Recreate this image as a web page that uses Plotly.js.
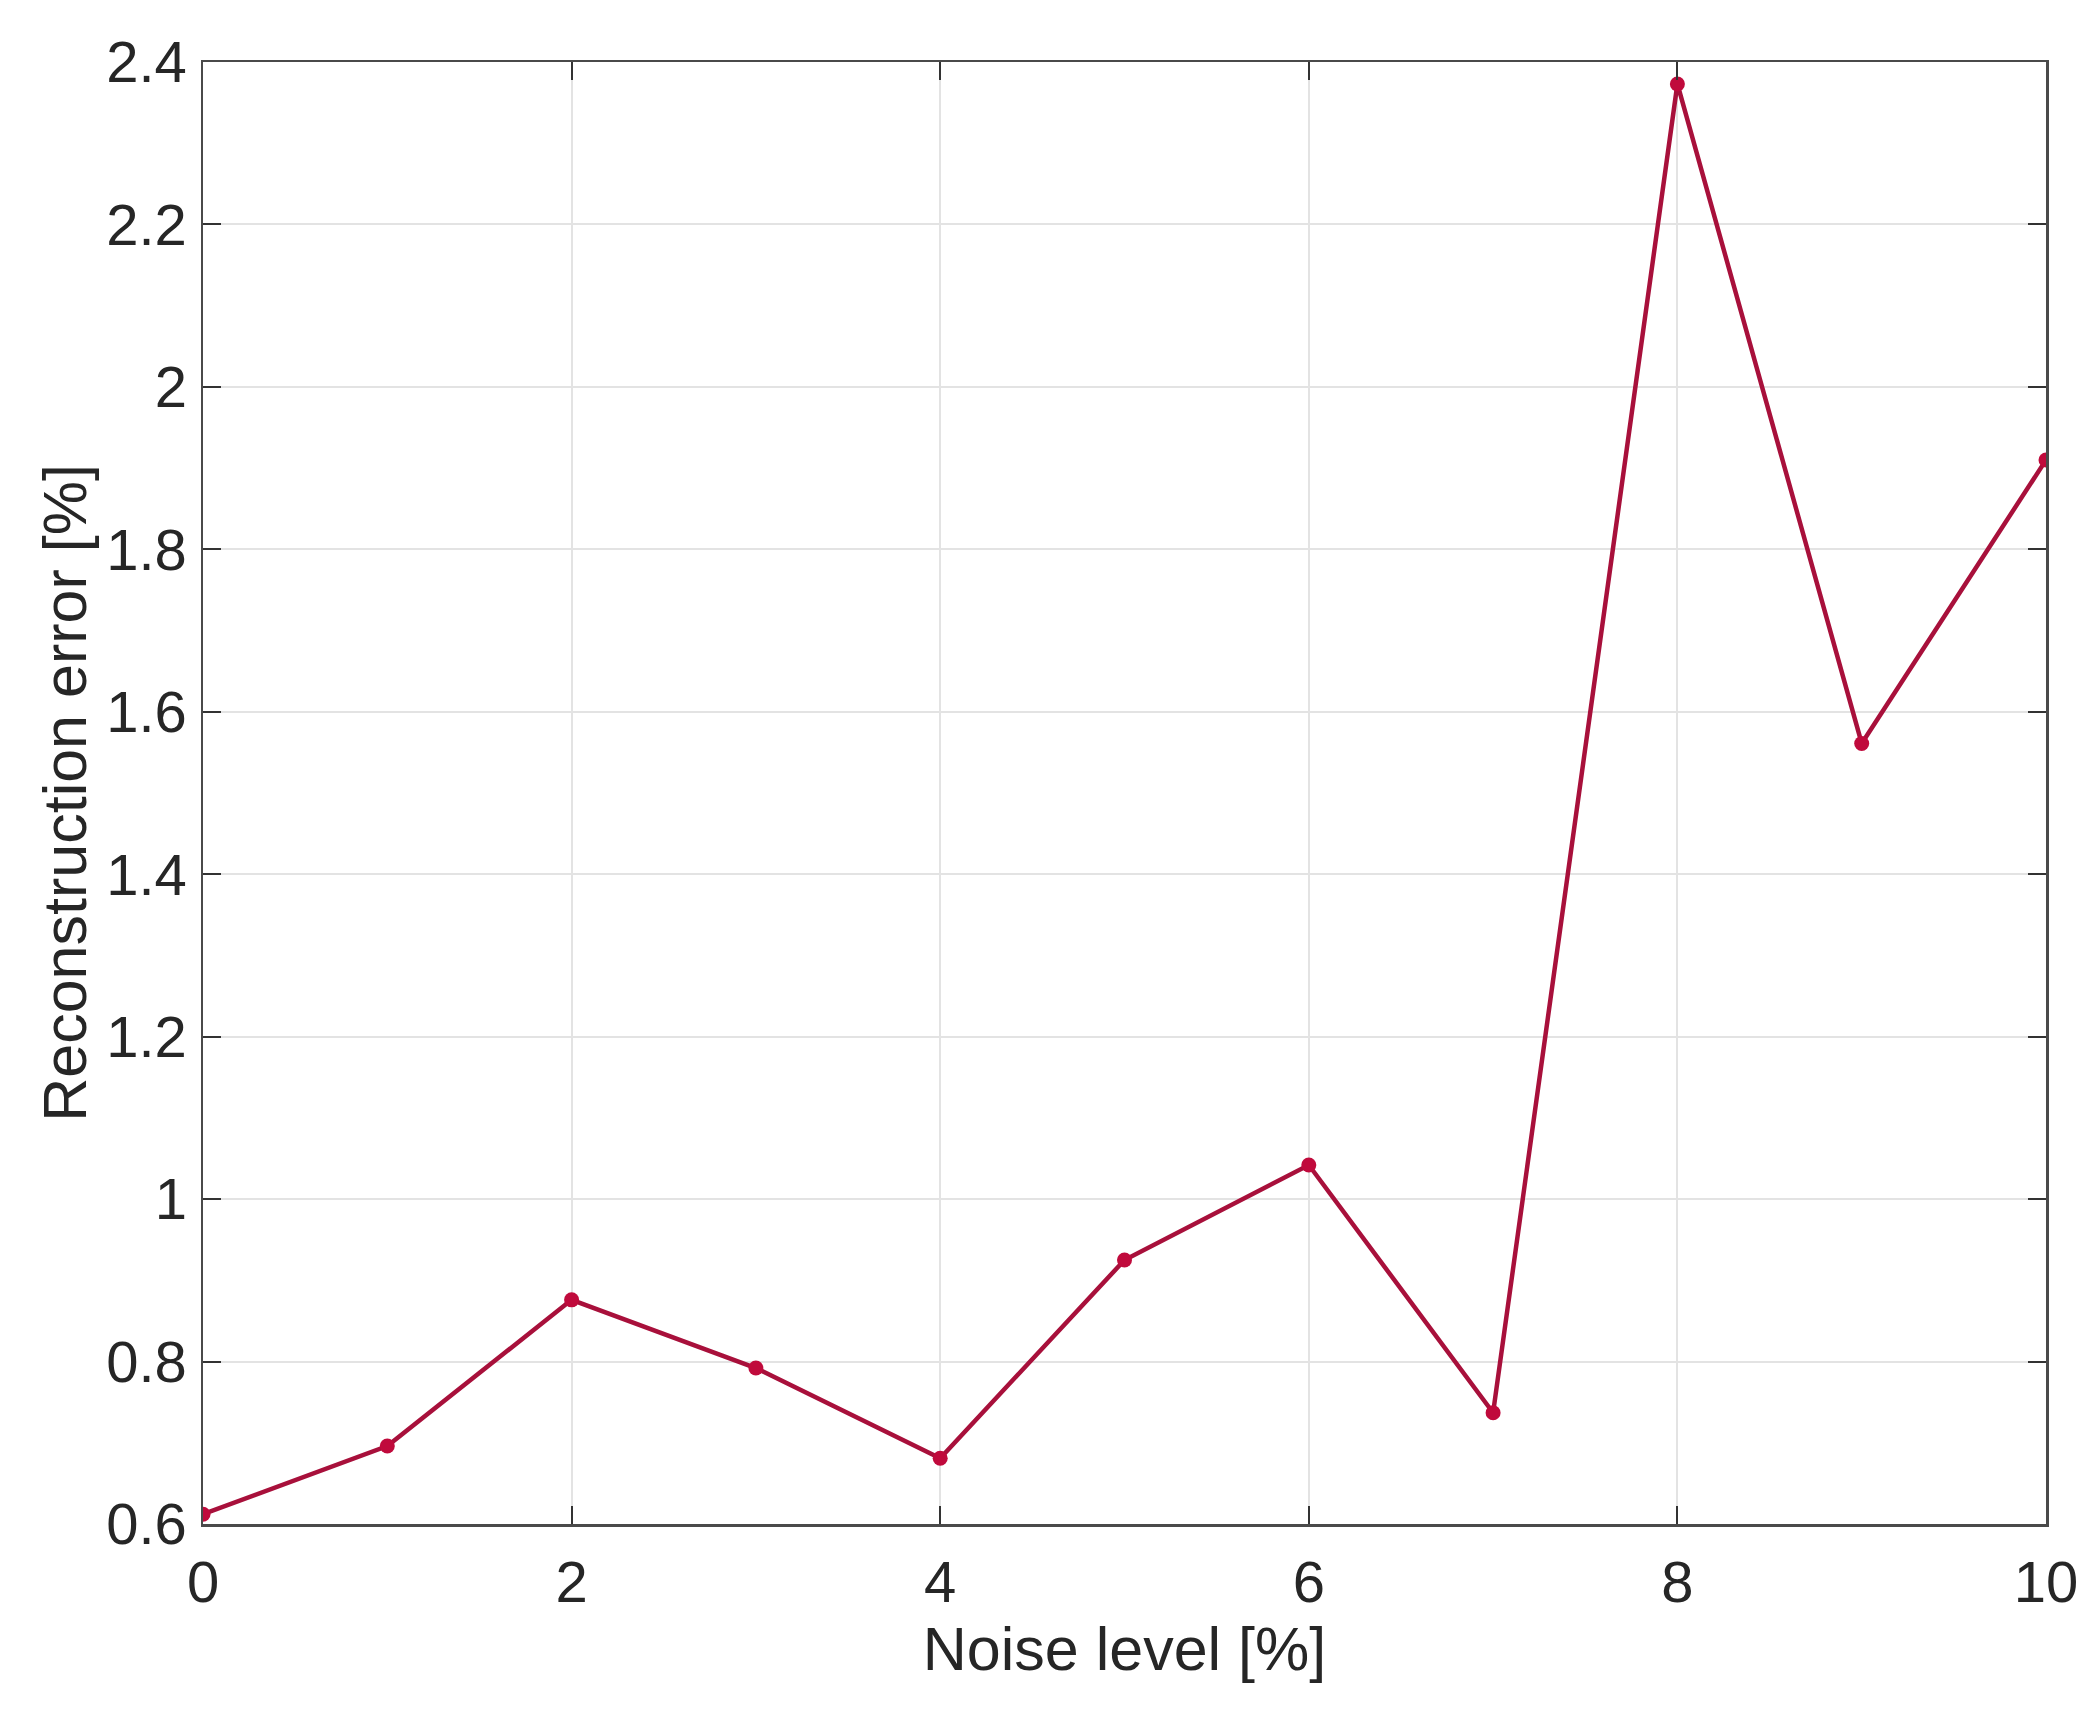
<!DOCTYPE html>
<html>
<head>
<meta charset="utf-8">
<script src="https://cdn.plot.ly/plotly-3.0.1.min.js"></script>
<style>
  html, body { margin: 0; padding: 0; background: #fff; }
  #chart { width: 2100px; height: 1712px; }
</style>
</head>
<body>
<div id="chart"></div>
<script>
// Noise level vs reconstruction error
const noiseLevel = [0, 1, 2, 3, 4, 5, 6, 7, 8, 9, 10];
const reconError = [0.612, 0.696, 0.876, 0.792, 0.681, 0.925, 1.042, 0.737, 2.373, 1.561, 1.910];

const xTicks = [0, 2, 4, 6, 8, 10];
const yTicks = [0.6, 0.8, 1, 1.2, 1.4, 1.6, 1.8, 2, 2.2, 2.4];
const yTickText = ['0.6', '0.8', '1', '1.2', '1.4', '1.6', '1.8', '2', '2.2', '2.4'];

const FONT = 'Arial, "Liberation Sans", Helvetica, sans-serif';
const TEXT_COLOR = '#262626';
const LINE_COLOR = '#A8103B';

const axisBase = {
    showline: true,
    linecolor: '#4a4a4a',
    linewidth: 2.5,
    mirror: 'ticks',
    ticks: 'inside',
    ticklen: 18,
    tickwidth: 2,
    tickcolor: '#333',
    showgrid: true,
    gridcolor: '#e3e3e3',
    gridwidth: 2,
    zeroline: false,
    tickfont: { family: FONT, size: 58, color: TEXT_COLOR },
    automargin: false
};

const trace = {
    x: noiseLevel,
    y: reconError,
    mode: 'lines+markers',
    line: { color: LINE_COLOR, width: 4.5 },
    marker: { color: '#C00A3C', size: 15 },
    hoverinfo: 'x+y'
};

const layout = {
    width: 2100,
    height: 1712,
    margin: { l: 203, r: 54, t: 62, b: 188 },
    paper_bgcolor: '#fff',
    plot_bgcolor: '#fff',
    showlegend: false,
    xaxis: {
        ...axisBase,
        range: [0, 10],
        tickmode: 'array',
        tickvals: xTicks,
        ticktext: xTicks.map(String),
        ticklabelstandoff: 6,
        title: {
            text: 'Noise level [%]',
            font: { family: FONT, size: 61, color: TEXT_COLOR },
            standoff: 14
        }
    },
    yaxis: {
        ...axisBase,
        range: [0.6, 2.4],
        tickmode: 'array',
        tickvals: yTicks,
        ticktext: yTickText,
        ticklabelstandoff: 2,
        title: {
            text: 'Reconstruction error [%]',
            font: { family: FONT, size: 61, color: TEXT_COLOR },
            standoff: 0
        }
    }
};

Plotly.newPlot('chart', [trace], layout, { displayModeBar: false, staticPlot: true });
</script>
</body>
</html>
